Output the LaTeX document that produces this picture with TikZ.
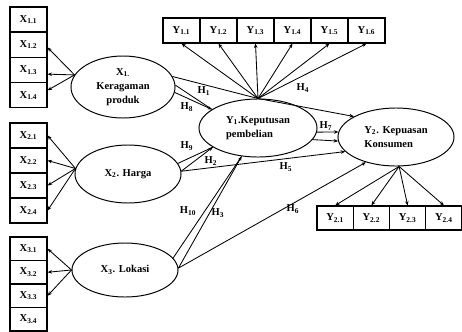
\documentclass[tikz,border=0pt]{standalone}
\usepackage{fontspec}
\setmainfont{Liberation Serif}
\usetikzlibrary{arrows.meta, positioning, shapes.geometric}

\begin{document}
\begin{tikzpicture}[
  x=0.025cm, y=-0.025cm,
  font=\fontsize{7.5}{10}\selectfont\bfseries,
  indbox/.style={draw, line width=0.8pt, minimum width=0.925cm, minimum height=0.625cm, inner sep=0pt},
  latent/.style={ellipse, draw, line width=0.7pt, inner sep=0pt},
  arrbase/.style={-{Stealth[length=1.1mm, width=0.9mm]}, line width=0.6pt},
  plain/.style={line width=0.6pt},
  hlab/.style={inner sep=0pt}
]
\useasboundingbox (0,0) rectangle (462,331);

% Indicator boxes of X1, X2 and X3
\foreach \i/\yy in {1/19.5, 2/44.8, 3/70.1, 4/95.4}{
  \node[indbox] (x1\i) at (28.5,\yy) {X\textsubscript{1.\i}};
}
\foreach \i/\yy in {1/135.5, 2/160.5, 3/185.5, 4/210.5}{
  \node[indbox] (x2\i) at (28.5,\yy) {X\textsubscript{2.\i}};
}
\foreach \i/\yy in {1/248.75, 2/272.25, 3/295.75, 4/319.25}{
  \node[indbox, minimum height=0.5875cm] (x3\i) at (28.5,\yy) {X\textsubscript{3.\i}};
}

% Indicator boxes of Y1 (top row) and Y2 (right row)
\foreach \i in {1,...,6}{
  \node[indbox] (y1\i) at ({144.5+37*\i},30.5) {Y\textsubscript{1.\i}};
}
\foreach \i in {1,...,4}{
  \node[indbox, minimum width=0.906cm, minimum height=0.6cm] (y2\i) at ({298.9+36.25*\i},218) {Y\textsubscript{2.\i}};
}

% Latent variables
\node[latent, minimum width=2.6cm, minimum height=1.55cm, align=center] (x1) at (123,87)
  {X\textsubscript{1.}\\Keragaman\\produk};
\node[latent, minimum width=2.65cm, minimum height=1.45cm] (x2) at (128,174) {X\textsubscript{2}. Harga};
\node[latent, minimum width=2.65cm, minimum height=1.35cm] (x3) at (125,270) {X\textsubscript{3}. Lokasi};
\node[latent, minimum width=2.95cm, minimum height=1.45cm, align=left] (y1) at (258,128)
  {Y\textsubscript{1}.Keputusan\\pembelian};
\node[latent, minimum width=2.9cm, minimum height=1.45cm, align=left] (y2) at (396,137)
  {Y\textsubscript{2}. Kepuasan\\Konsumen};

% Loadings: latent -> indicators
\foreach \b/\a in {x12/-8, x13/-12, x14/15}{
  \draw[arrbase] (x1.166) -- (\b.\a);
}
\foreach \b in {x21, x22, x23, x24}{
  \draw[arrbase] (x2.174) -- (\b.east);
}
\foreach \b in {x31, x32, x33}{
  \draw[arrbase] (x3.west) -- (\b.east);
}
\foreach \i in {1,...,6}{
  \draw[arrbase] (y1.north) -- (y1\i.south);
}
\foreach \i in {1,...,4}{
  \draw[arrbase] (y2.-84) -- (y2\i.north);
}

% Hypotheses paths
\draw[arrbase] (x1.12) -- (y1.north) -- (y2.154);
\draw[plain] (x1.2) -- (y1.158);
\draw[arrbase] (x1.-6) -- (y1.158);
\draw[plain] (x2.12) -- (y1.203);
\draw[arrbase] (x2.3) -- (y1.203);
\draw[arrbase] (x2.3) -- (y2.196);
\draw[plain] (x3.14) -- (y1.240);
\draw[arrbase] (x3.2) -- (y1.240);
\draw[arrbase] (x3.2) -- (y2.220);
\draw[arrbase] (y1.-4) -- (y2.175);
\draw[arrbase] (y1.-12) -- (y2.184);

% Hypotheses labels
\node[hlab] (h1) at (204,91) {H\textsubscript{1}};
\node[hlab] (h8) at (187,107) {H\textsubscript{8}};
\node[hlab] (h4) at (303,88) {H\textsubscript{4}};
\node[hlab] (h9) at (187,146) {H\textsubscript{9}};
\node[hlab] (h2) at (211,161) {H\textsubscript{2}};
\node[hlab] (h5) at (286,167) {H\textsubscript{5}};
\node[hlab] (h10) at (188,211) {H\textsubscript{10}};
\node[hlab] (h3) at (218,213) {H\textsubscript{3}};
\node[hlab] (h6) at (293,209) {H\textsubscript{6}};
\node[hlab] (h7) at (326,126) {H\textsubscript{7}};

\end{tikzpicture}
\end{document}
